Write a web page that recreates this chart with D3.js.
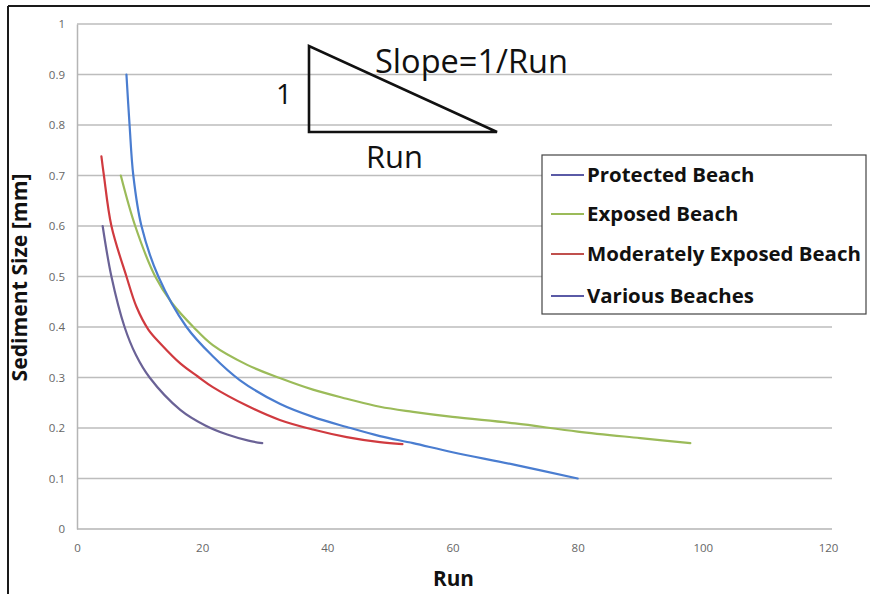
<!DOCTYPE html>
<html><head><meta charset="utf-8">
<script src="https://cdn.jsdelivr.net/npm/d3@7"></script>
<style>body{margin:0;background:#fff}svg{display:block}</style>
</head><body>
<script>
// ---- data ----
const seriesNames = ["Protected Beach","Exposed Beach","Moderately Exposed Beach","Various Beaches"];
const seriesColors = ["#6a6296","#9bbb59","#d03a3f","#4a7dd0"];
const legendColors = ["#5a5aa6","#9bbb59","#c0504d","#5a5aa6"];
const protectedX = [4.1,5.5,7.6,9.4,11.6,16.5,20.5,24,27.4,29.6];
const protectedY = [0.6,0.5,0.4,0.345,0.3,0.236,0.205,0.187,0.175,0.170];
const exposedX = [7.0,9.3,12.5,15.2,18.6,21.7,27.2,32.4,37.7,43.1,48.4,53.7,60,70,80,90,98];
const exposedY = [0.7,0.6,0.5,0.447,0.4,0.364,0.325,0.299,0.276,0.258,0.242,0.232,0.222,0.209,0.193,0.18,0.17];
const moderateX = [3.9,4.3,5.5,7.9,9.5,11.4,13.5,16.5,19.3,21.7,27.2,32.4,37.7,43.1,48.4,52];
const moderateY = [0.738,0.7,0.6,0.5,0.44,0.395,0.365,0.328,0.302,0.281,0.244,0.216,0.197,0.182,0.172,0.168];
const variousX = [7.9,8.4,9.0,10.3,13.0,17.5,21.7,26,32.4,37.7,43.1,48.4,53.7,60,70,80];
const variousY = [0.9,0.8,0.7,0.6,0.5,0.4,0.342,0.295,0.248,0.222,0.202,0.184,0.170,0.152,0.127,0.10];
const xTicks = [0,20,40,60,80,100,120];
const yTicks = [0,0.1,0.2,0.3,0.4,0.5,0.6,0.7,0.8,0.9,1];

const series = [
  {x:protectedX,y:protectedY},
  {x:exposedX,y:exposedY},
  {x:moderateX,y:moderateY},
  {x:variousX,y:variousY}
];

const W=870,H=594;
const svg=d3.select("body").append("svg").attr("width",W).attr("height",H);
svg.append("rect").attr("width",W).attr("height",H).attr("fill","#fff");

const x=d3.scaleLinear().domain([0,120]).range([77,828]);
const y=d3.scaleLinear().domain([0,1]).range([529,24]);
const font="'Open Sans', Lato, sans-serif";

function fit(sel,target){
  const n=sel.node(); const fs=parseFloat(sel.style("font-size"));
  const w=n.getComputedTextLength();
  if(w>0) sel.style("font-size",(fs*target/w).toFixed(2)+"px");
  return sel;
}

// gridlines
svg.append("g").selectAll("line").data(yTicks.filter(d=>d>0)).join("line")
  .attr("x1",x(0)).attr("x2",x(120)+4).attr("y1",d=>y(d)).attr("y2",d=>y(d))
  .attr("stroke","#bdbdbd").attr("stroke-width",1.5);

// axes
const yAxis=svg.append("g").attr("transform",`translate(${x(0)},0)`)
  .call(d3.axisLeft(y).tickValues(yTicks).tickSize(0).tickPadding(12).tickFormat(d=>d===0?"0":d===1?"1":d3.format(".1f")(d)));
const xAxis=svg.append("g").attr("transform",`translate(0,${y(0)})`)
  .call(d3.axisBottom(x).tickValues(xTicks).tickSize(0).tickPadding(15));
[yAxis,xAxis].forEach(a=>{
  a.select(".domain").attr("stroke","#b5b5b5").attr("stroke-width",1.5);
  a.selectAll("text").attr("fill","#666").style("font-family",font).style("font-size","11.5px");
});
xAxis.select(".domain").attr("d",`M${x(0)},0H${x(120)+4}`);

// lines
const line=d3.line().x(d=>x(d[0])).y(d=>y(d[1])).curve(d3.curveCatmullRom.alpha(0.5));
series.forEach((s,i)=>{
  const pts=s.x.map((v,j)=>[v,s.y[j]]);
  svg.append("path").datum(pts).attr("d",line).attr("fill","none")
    .attr("stroke",seriesColors[i]).attr("stroke-width",2.2).attr("stroke-linecap","round");
});

// axis titles
const yt=svg.append("text").attr("transform",`translate(27,${y(0.5)+1}) rotate(-90)`)
  .attr("text-anchor","middle").style("font-family",font).style("font-weight","bold").style("font-size","16px")
  .attr("fill","#111").text("Sediment Size [mm]");
fit(yt,208);
const xt=svg.append("text").attr("x",x(60)+1).attr("y",586).attr("text-anchor","middle")
  .style("font-family",font).style("font-weight","bold").style("font-size","17px").attr("fill","#111").text("Run");
fit(xt,41);

// triangle annotation
svg.append("path").attr("d","M309,46L309,132L497,132Z").attr("fill","none")
  .attr("stroke","#111").attr("stroke-width",2.6).attr("stroke-linejoin","miter");
svg.append("text").attr("x",284).attr("y",104).attr("text-anchor","middle")
  .style("font-family",font).style("font-size","28px").attr("fill","#111").text("1");
const st=svg.append("text").attr("x",375).attr("y",73)
  .style("font-family",font).style("font-size","28px").attr("fill","#111").text("Slope=1/Run");
fit(st,193);
const rt=svg.append("text").attr("x",366).attr("y",168)
  .style("font-family",font).style("font-size","28px").attr("fill","#111").text("Run");
fit(rt,57);

// legend
const lg=svg.append("g");
lg.append("rect").attr("x",542).attr("y",155).attr("width",324).attr("height",159)
  .attr("fill","#fff").attr("stroke","#444").attr("stroke-width",1.2);
const ly=[175,214,254,296];
const lt=seriesNames.map((n,i)=>{
  lg.append("line").attr("x1",551).attr("x2",584).attr("y1",ly[i]).attr("y2",ly[i])
    .attr("stroke",legendColors[i]).attr("stroke-width",2.2);
  return lg.append("text").attr("x",587).attr("y",ly[i]).attr("dy","0.35em")
    .style("font-family",font).style("font-weight","bold").style("font-size","18px")
    .attr("fill","#111").text(n);
});
fit(lt[2],274);
const lfs=lt[2].style("font-size");
lt.forEach(t=>t.style("font-size",lfs));

// outer frame (top and left visible)
svg.append("line").attr("x1",8).attr("x2",W).attr("y1",6).attr("y2",6).attr("stroke","#1a1a1a").attr("stroke-width",2);
svg.append("line").attr("x1",8).attr("x2",8).attr("y1",6).attr("y2",H).attr("stroke","#1a1a1a").attr("stroke-width",2);
</script>
</body></html>
